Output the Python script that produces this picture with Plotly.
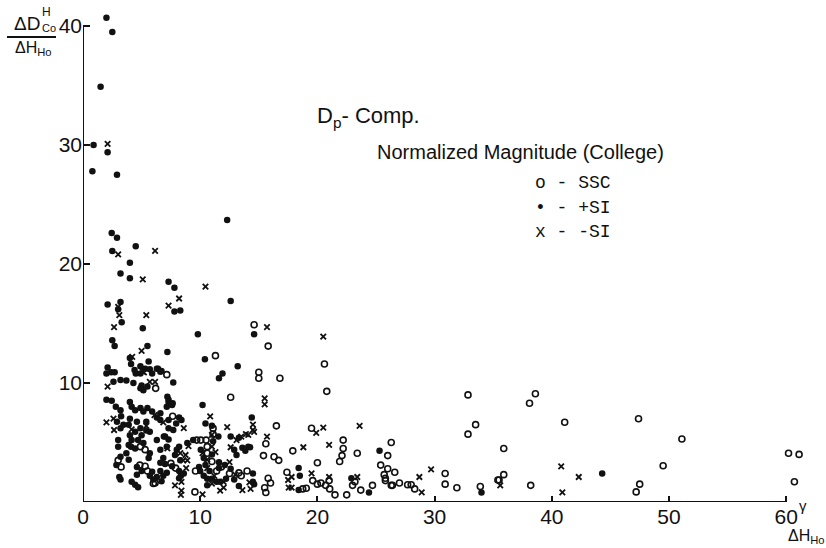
import plotly.graph_objects as go

# ---- data ----
ssc_x = [14.6, 15.8, 11.3, 15.0, 15.0, 16.8, 20.6, 20.8, 16.5, 19.5, 15.6, 17.9, 22.2, 22.2, 23.4, 26.3, 26.0,
         15.4, 16.3, 16.7, 22.1, 21.9, 20.0, 25.4, 26.0, 26.6, 25.7, 25.8, 26.3, 30.9, 30.9, 31.9, 32.85, 33.5,
         32.85, 33.9, 35.5, 17.4, 18.75, 19.05, 19.6, 20.0, 20.3, 20.7, 21.0, 21.05, 21.5, 22.5, 23.2, 23.0, 23.7,
         24.7, 25.8, 26.4, 27.0, 27.7, 28.0, 28.3, 15.8, 16.0, 15.5, 15.6,
         38.1, 38.6, 41.1, 47.4, 51.1, 60.2, 61.1, 60.7, 49.5, 38.2, 35.9, 35.9, 35.4, 47.5, 47.2,
         7.15, 6.2, 12.6, 7.65, 4.9, 5.3, 5.3, 5.5, 6.15, 7.5, 7.9, 9.7, 10.05, 10.5, 10.6, 10.6, 11.0, 9.6,
         11.4, 9.55, 12.5, 11.8, 11.1, 11.1, 14.0, 13.3, 13.5, 3.0, 3.25, 4.85, 6.0]
ssc_y = [14.9, 13.1, 12.3, 10.9, 10.4, 10.4, 11.6, 9.3, 6.4, 6.2, 4.9, 4.3, 5.2, 4.5, 4.1, 5.0, 3.9,
         3.9, 3.8, 3.5, 3.9, 3.4, 3.3, 3.1, 2.8, 2.5, 2.3, 1.8, 1.4, 2.4, 1.5, 1.2, 9.0, 6.5,
         5.7, 1.3, 1.85, 2.5, 1.1, 1.15, 1.8, 1.5, 1.6, 1.4, 1.8, 1.1, 0.6, 0.6, 1.7, 1.4, 1.0,
         1.4, 2.0, 1.4, 1.6, 1.45, 1.45, 1.1, 2.0, 1.6, 1.2, 0.8,
         8.3, 9.1, 6.7, 7.0, 5.3, 4.1, 4.0, 1.7, 3.05, 1.4, 4.5, 2.3, 1.85, 1.5, 0.85,
         10.7, 9.55, 8.8, 7.2, 4.65, 4.4, 3.0, 2.6, 1.6, 3.25, 2.85, 5.2, 5.2, 5.2, 4.65, 4.1, 3.4, 2.6,
         2.6, 0.85, 2.4, 2.95, 6.2, 5.7, 2.6, 2.45, 2.2, 3.5, 2.95, 3.1, 1.55]

psi_x = [2.0, 2.5, 1.5, 0.9, 2.1, 0.8, 2.9, 2.45, 2.9, 2.5, 4.5, 4.0, 3.2, 4.0, 7.3, 7.8, 12.6, 12.3, 2.1,
         3.2, 3.0, 7.8, 8.3, 3.3, 5.1, 9.8, 14.6, 2.5, 2.7, 5.5, 7.2, 4.1, 4.0, 5.6, 2.1, 2.7, 5.3, 6.4, 5.9,
         6.7, 4.5, 10.4, 13.2, 11.9, 11.6, 14.4, 25.3, 18.4, 18.5, 18.4, 24.4, 22.9, 14.5, 14.6, 34.0, 44.3,
         2.0, 2.6, 3.2, 3.7, 4.4, 4.9, 4.9, 5.7, 6.3, 6.6, 4.3, 5.0, 4.9, 5.15, 5.5, 7.7, 10.2, 2.0, 2.45,
         2.8, 3.2, 2.9, 3.25, 3.45, 3.2, 4.0, 4.15, 4.45, 4.9, 5.15, 5.5, 5.9, 6.6, 7.15, 7.3, 7.2, 7.65,
         8.2, 8.4, 7.95, 7.3, 7.3, 6.6, 6.3, 4.6, 4.0, 3.9, 4.9, 5.4, 5.7, 5.4, 5.0, 4.7, 4.15, 4.1, 4.45,
         5.15, 5.7, 5.6, 5.9, 5.7, 6.0, 6.6, 6.3, 6.9, 7.3, 7.15, 6.85, 6.6, 7.0, 6.6, 6.85, 7.15, 7.6,
         7.85, 8.0, 8.2, 8.3, 8.2, 8.35, 8.2, 8.6, 9.4, 8.9, 11.1, 10.05, 11.0, 10.3, 10.45, 9.9, 10.0,
         10.8, 10.3, 10.6, 11.0, 11.6, 11.4, 10.6, 11.7, 12.2, 12.6, 12.1, 11.6, 10.45, 11.0, 11.55, 12.6,
         12.9, 13.6, 14.25, 12.9, 13.3, 14.5, 3.0, 3.0, 3.2, 2.85, 3.1, 3.2, 4.15, 4.45, 4.7, 3.9, 3.7,
         3.9, 4.0, 4.45, 4.6, 5.0, 4.6, 6.3, 6.7, 7.3, 7.6, 7.7, 7.0, 13.3, 14.1, 13.85, 13.1, 2.4]
psi_y = [40.7, 39.5, 34.9, 30.0, 29.4, 27.8, 27.5, 22.6, 22.2, 21.1, 21.5, 20.1, 19.2, 18.8, 18.5, 18.0, 16.9,
         23.7, 16.6, 16.8, 16.2, 16.0, 16.1, 15.1, 14.6, 14.1, 14.1, 13.6, 13.1, 13.1, 12.6, 11.6, 12.1, 11.8,
         11.3, 10.9, 11.2, 11.2, 10.8, 11.0, 10.8, 12.0, 11.4, 10.8, 10.4, 7.1, 4.3, 2.85, 2.2, 1.0, 0.8, 2.0,
         2.4, 1.5, 0.8, 2.4,
         10.8, 10.1, 10.25, 10.2, 11.1, 10.8, 11.4, 11.15, 11.2, 10.95, 10.0, 9.8, 9.55, 9.4, 9.7, 10.05, 8.15,
         8.6, 8.5, 8.0, 7.7, 6.75, 7.2, 6.5, 6.2, 8.4, 8.0, 7.7, 7.9, 7.6, 7.9, 7.6, 7.45, 8.0, 8.4, 8.85, 8.3,
         7.1, 6.9, 6.6, 6.9, 6.2, 6.9, 7.1, 6.75, 7.0, 6.5, 6.2, 6.75, 5.9, 6.0, 5.6, 5.2, 5.2, 4.65, 4.5,
         4.95, 4.1, 3.7, 2.55, 2.2, 1.9, 4.4, 5.2, 5.5, 5.25, 4.65, 3.7, 3.3, 3.2, 2.6, 2.2, 2.45, 3.0,
         3.95, 4.4, 4.65, 3.5, 2.6, 2.2, 2.0, 2.4, 5.2, 4.95, 5.1, 4.4, 4.0, 3.7, 3.1, 2.95, 2.6,
         2.6, 2.2, 1.95, 1.95, 2.85, 1.7, 1.4, 1.7, 1.95, 2.8, 3.1, 3.35, 6.6, 6.4, 5.5, 5.5,
         4.4, 4.55, 4.6, 1.9, 1.35, 1.7, 5.2, 4.65, 3.8, 3.1, 2.1, 1.9, 1.7, 1.45, 1.25, 3.55, 4.1,
         4.8, 5.6, 5.9, 2.95, 2.6, 2.3, 2.1, 1.75, 8.6, 8.15, 6.05, 5.5, 5.4, 4.65, 4.3, 3.95, 10.9]

msi_x = [2.1, 3.0, 6.15, 5.1, 10.45, 8.2, 3.0, 3.1, 7.3, 5.4, 2.65, 15.7, 20.5, 15.5, 15.5, 23.6, 19.9, 20.5,
         14.6, 15.7, 21.0, 18.8, 29.7, 28.7, 17.5, 17.8, 17.55, 17.8, 19.5, 21.0, 23.4, 28.9, 40.8, 42.3, 40.9,
         35.6, 5.0, 4.2, 5.2, 2.1, 5.1, 5.7, 6.15, 2.0, 2.6, 2.65, 6.1, 8.6, 6.85, 4.15, 5.4, 7.2, 8.3, 8.55,
         8.4, 7.85, 8.4, 8.35, 8.75, 8.8, 8.9, 9.0, 11.0, 10.2, 11.3, 10.6, 10.6, 11.2, 11.0, 10.2, 12.0, 11.7,
         12.0, 12.5, 10.85, 11.0, 12.3, 13.1, 13.5, 14.1, 14.5, 14.5, 13.0, 13.6, 14.3, 14.2, 13.9, 12.6]
msi_y = [30.1, 20.8, 21.1, 18.7, 18.1, 17.1, 16.4, 15.7, 16.5, 15.7, 14.7, 14.7, 13.9, 8.7, 8.2, 6.4, 5.8, 6.25,
         5.9, 5.5, 4.8, 4.6, 2.75, 2.1, 1.85, 2.1, 1.2, 1.2, 2.4, 2.1, 2.1, 0.8, 3.0, 2.1, 0.8,
         1.4, 12.7, 12.2, 10.9, 9.7, 10.95, 10.1, 10.1, 6.7, 7.0, 6.05, 7.3, 6.2, 6.7, 6.1, 6.4, 4.5, 4.1, 3.5,
         1.7, 1.4, 0.95, 0.6, 3.95, 2.85, 3.5, 4.7, 4.65, 4.1, 4.2, 3.55, 2.85, 2.2, 1.55, 0.65, 1.7, 0.95,
         1.2, 3.35, 7.2, 5.65, 6.3, 5.2, 5.5, 5.65, 6.05, 6.5, 2.3, 1.0, 1.1, 1.65, 5.7, 4.6]

x_ticks = [0, 10, 20, 30, 40, 50, 60]
y_ticks = [10, 20, 30, 40]

# ---- geometry helpers (pixel -> paper) ----
L, R, T, B = 83, 10, 8, 46
W, H = 826, 548
PW, PH = W - L - R, H - T - B
XMAX = PW / 11.72
YMAX = PH / 11.9


def px(p):
    return (p - L) / PW


def py(p):
    return (H - B - p) / PH


INK = "#111111"

fig = go.Figure()
fig.add_trace(go.Scatter(x=ssc_x, y=ssc_y, mode="markers", name="SSC", cliponaxis=False,
                         marker=dict(symbol="circle-open", size=6, color=INK, line=dict(width=1.6, color=INK))))
fig.add_trace(go.Scatter(x=psi_x, y=psi_y, mode="markers", name="+SI", cliponaxis=False,
                         marker=dict(symbol="circle", size=6.5, color=INK, line=dict(width=0))))
fig.add_trace(go.Scatter(x=msi_x, y=msi_y, mode="markers", name="-SI", cliponaxis=False,
                         marker=dict(symbol="x-thin", size=5.5, color=INK, line=dict(width=1.8, color=INK))))

tickfont = dict(family="Liberation Sans", size=21, color=INK)
fig.update_xaxes(range=[0, XMAX], tickvals=x_ticks, ticks="inside", ticklen=6, tickwidth=1.5,
                 tickcolor=INK, showline=False, showgrid=False, zeroline=False, tickfont=tickfont)
fig.update_yaxes(range=[0, YMAX], tickvals=y_ticks, ticks="inside", ticklen=7, tickwidth=1.5,
                 tickcolor=INK, showline=False, showgrid=False, zeroline=False, tickfont=tickfont)

# axis lines (only spanning 0..60 and 0..40 as in the original)
fig.add_shape(type="line", xref="x", yref="y", x0=0, y0=0, x1=60, y1=0, line=dict(color=INK, width=2))
fig.add_shape(type="line", xref="x", yref="y", x0=0, y0=0, x1=0, y1=40, line=dict(color=INK, width=2))
# fraction bar of the y-axis label
fig.add_shape(type="line", xref="paper", yref="paper", x0=px(7), y0=py(37), x1=px(56), y1=py(37),
              line=dict(color=INK, width=2))

ann = []


def A(text, x, y, size, family="Liberation Sans", xanchor="left", yanchor="middle"):
    ann.append(dict(text=text, x=px(x), y=py(y), xref="paper", yref="paper", showarrow=False,
                    xanchor=xanchor, yanchor=yanchor, font=dict(family=family, size=size, color=INK)))


# y-axis label
A("ΔD", 12, 23, 19)
A("H", 40, 12, 12)
A("Co", 40, 28, 11)
A("ΔH<sub>Ho</sub>", 13, 49, 16)
# x-axis label + unit
A("γ", 797, 505, 15)
A("ΔH<sub>Ho</sub>", 786, 536, 16)
# titles
A("D<sub>p</sub>- Comp.", 315, 117, 22)
A("Normalized Magnitude (College)", 375, 152, 20)
# legend text
A("o - SSC", 533, 183, 18, family="Liberation Mono")
A("• - +SI", 533, 208, 18, family="Liberation Mono")
A("x - -SI", 533, 232, 18, family="Liberation Mono")

fig.update_layout(width=W, height=H, margin=dict(l=L, r=R, t=T, b=B), showlegend=False,
                  paper_bgcolor="white", plot_bgcolor="white", annotations=ann)

fig.write_html("out.html")
